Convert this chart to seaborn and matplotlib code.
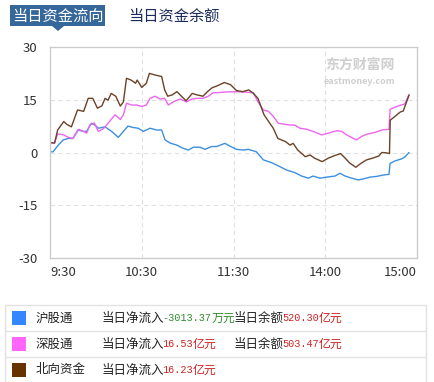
import numpy as np
import pandas as pd
import matplotlib
matplotlib.use('Agg')
import matplotlib.pyplot as plt
from matplotlib.patches import Rectangle, Polygon
from matplotlib.lines import Line2D
import seaborn as sns

# minutes since 9:30 (trading minutes, 240 = 15:00), values in 亿元
sh_t = [0, 2, 5.4, 8.7, 12, 15, 18.5, 22, 24, 27, 29.4, 31.6, 36, 40.3, 44.7, 48, 51, 54.5, 57.7, 61,
        65.4, 69.8, 73, 75.2, 78.5, 82.9, 87, 90.5, 93.7, 98, 101.4, 105.7, 109, 114.4, 117.7, 122,
        126.4, 129.7, 135, 139.5, 145, 149.3, 154.8, 160, 164.6, 169, 172, 176.6, 181, 186.4, 189.6,
        193, 197.3, 201.6, 204.9, 209.3, 213.6, 218, 221.7, 222.4, 225.6, 230, 232, 234.8]
sh_v = [0.2, 0.2, 2.1, 3.6, 4.0, 4.0, 6.4, 6.0, 6.0, 8.3, 7.8, 6.9, 7.3, 6.0, 4.3, 6.0, 7.5, 7.1, 6.9, 6.0,
        6.9, 6.4, 6.4, 3.6, 2.7, 2.1, 1.2, 0.7, 1.5, 1.5, 0.9, 1.7, 1.7, 2.6, 1.8, 0.9,
        0.7, 0.9, 0.2, -2.1, -2.9, -3.8, -5.0, -5.7, -6.7, -7.3, -6.7, -7.3, -7.0, -6.7, -5.9,
        -6.7, -7.3, -7.8, -7.5, -7.0, -6.8, -6.4, -6.2, -3.1, -2.4, -1.8, -1.3, 0.0]

sz_t = [0, 3, 5, 9, 12, 15, 18.5, 22, 24, 26, 29, 31.6, 35, 37, 40, 42.5, 46, 48, 50, 53.4, 56.7, 60,
        63, 65.4, 68.7, 72, 75, 77.4, 80.6, 85, 89.4, 92.7, 96, 100, 103.5, 106.8, 109, 114.4, 122,
        126.4, 133, 136, 139.5, 142.8, 146, 149.3, 152.6, 157, 160, 163.5, 168, 172, 177.7, 182, 187.5,
        190.7, 194, 198.4, 200.6, 203.8, 208, 212.5, 217, 221.7, 222.4, 226.7, 232, 234.8]
sz_v = [2.8, 2.7, 5.3, 5.0, 4.3, 4.0, 6.6, 6.0, 5.5, 7.8, 8.4, 6.0, 6.8, 7.8, 9.4, 10.7, 9.4, 10.7, 14.0, 13.5, 13.5, 13.1,
        13.5, 15.4, 16.0, 15.2, 15.4, 13.5, 14.4, 15.2, 14.4, 15.2, 15.4, 15.4, 16.0, 17.0, 17.0, 17.2, 17.3,
        17.2, 17.0, 14.4, 12.1, 11.7, 10.3, 8.3, 8.1, 7.8, 7.8, 6.9, 6.6, 6.0, 5.0, 5.5, 6.2,
        6.0, 5.0, 4.0, 3.6, 4.6, 5.3, 5.7, 6.4, 6.6, 12.3, 13.1, 13.8, 16.5]

nb_t = [0, 3, 5, 9, 11, 14, 18, 22, 25, 28, 31, 34, 36, 38, 40, 43, 46, 48, 50, 53, 56, 57, 60, 63, 65, 69,
        73, 75, 77, 80, 83, 86, 89, 93, 96, 100, 103, 106, 109, 114, 118, 122, 126, 130, 133, 136, 140,
        143, 146, 149, 154, 157, 159, 162, 167, 170, 173, 178, 182, 186, 190, 193, 196, 200, 203, 207,
        211, 215, 217, 220, 222, 222.5, 226, 229, 231, 234.8]
nb_v = [2.8, 2.7, 6.4, 8.8, 8.0, 7.3, 12.1, 11.7, 15.4, 15.4, 12.6, 13.3, 15.4, 14.9, 16.8, 16.0, 13.2, 14.4, 21.1, 20.6, 19.7, 20.6, 18.5, 19.7, 22.5, 22.0,
        21.6, 17.8, 16.0, 16.4, 17.3, 16.0, 14.7, 16.8, 16.4, 16.0, 17.3, 18.4, 18.9, 19.9, 19.3, 17.6, 17.3, 17.8, 16.8, 15.4, 10.7,
        8.8, 6.9, 4.0, 3.1, 2.1, 2.6, 0.7, -1.2, -0.7, -1.6, -2.6, -1.6, -0.9, -0.3, -1.6, -3.0, -4.2, -3.2, -2.1,
        -1.6, -1.0, 0.0, -0.1, -0.3, 9.2, 10.4, 11.5, 11.8, 16.3]

series_names = ['沪股通', '深股通', '北向资金']
line_colors = ['#3d8fe0', '#ee66ee', '#6b4226']
box_colors = ['#3388ff', '#ff66ff', '#663300']
tick_pos = [0, 60, 120, 180, 240]
tick_labels = ['9:30', '10:30', '11:30', '14:00', '15:00']
y_ticks = [-30, -15, 0, 15, 30]

net_in = ['-3013.37', '16.53', '16.23']
net_unit = ['万元', '亿元', '亿元']
balance = ['520.30', '503.47', None]

df = pd.concat([
    pd.DataFrame({'t': sh_t, 'v': sh_v, 's': series_names[0]}),
    pd.DataFrame({'t': sz_t, 'v': sz_v, 's': series_names[1]}),
    pd.DataFrame({'t': nb_t, 'v': nb_v, 's': series_names[2]}),
])

sns.set_style('white')
plt.rcParams['font.family'] = ['Noto Sans CJK SC', 'DejaVu Sans']

W, H = 434, 382
fig = plt.figure(figsize=(W / 100, H / 100), dpi=100)


def fx(x):
    return x / W


def fy(y):
    return 1 - y / H


ax = fig.add_axes([fx(50), fy(258), fx(417) - fx(50), fy(47) - fy(258)])
sns.lineplot(data=df, x='t', y='v', hue='s', palette=dict(zip(series_names, line_colors)),
             linewidth=1.0, legend=False, ax=ax, sort=False, estimator=None)

ax.set_xlim(0, 240)
ax.set_ylim(-30, 30)
ax.set_xlabel('')
ax.set_ylabel('')
ax.set_yticks(y_ticks)
ax.set_yticklabels([str(v) for v in y_ticks])
ax.set_xticks(tick_pos)
ax.set_xticklabels(tick_labels)
ax.tick_params(length=0, labelsize=9.5, colors='#333333')
ax.tick_params(axis='y', pad=9)
ax.tick_params(axis='x', pad=6)
xt = ax.get_xticklabels()
xt[0].set_ha('left')
xt[-1].set_ha('right')
for s in ax.spines.values():
    s.set_color('#cccccc')
    s.set_linewidth(1)
for y in [-15, 0, 15]:
    ax.axhline(y, color='#e0e0e0', lw=0.8, ls=(0, (4, 3)), zorder=0)
for x in [60, 120, 180]:
    ax.axvline(x, color='#e0e0e0', lw=0.8, ls=(0, (4, 3)), zorder=0)

# watermark
ax.text(0.94, 0.95, '东方财富网', transform=ax.transAxes, ha='right', va='top',
        fontsize=10, color='#cfcfcf', fontweight='bold')
ax.text(0.94, 0.86, 'eastmoney.com', transform=ax.transAxes, ha='right', va='top',
        fontsize=6.5, color='#cfcfcf', fontweight='bold')

# tabs
fig.add_artist(Rectangle((fx(10), fy(26)), fx(105) - fx(10), fy(5) - fy(26),
                         transform=fig.transFigure, color='#35679a', lw=0))
fig.add_artist(Polygon([(fx(52), fy(26)), (fx(64), fy(26)), (fx(58), fy(31))],
                       transform=fig.transFigure, color='#35679a', lw=0))
fig.text(fx(57.5), fy(16), '当日资金流向', color='white', fontsize=11, ha='center', va='center')
fig.text(fx(128), fy(16), '当日资金余额', color='#1a2b5c', fontsize=11, ha='left', va='center')

# bottom table
line_kw = dict(transform=fig.transFigure, color='#e2e2e2', lw=1)
for y in [305, 331, 357]:
    fig.add_artist(Line2D([fx(5), fx(426)], [fy(y), fy(y)], **line_kw))
fig.add_artist(Line2D([fx(5), fx(5)], [fy(305), fy(382)], **line_kw))
fig.add_artist(Line2D([fx(426), fx(426)], [fy(305), fy(382)], **line_kw))

num_font = 'Liberation Mono'
num_size = 7.3
adv = 0.6 * num_size * 100 / 72
for i, name in enumerate(series_names):
    yc = 318 + 26 * i
    fig.add_artist(Rectangle((fx(12), fy(yc + 7)), fx(14), fy(yc - 7) - fy(yc + 7),
                             transform=fig.transFigure, color=box_colors[i], lw=0))
    fig.text(fx(36), fy(yc), name, fontsize=9, ha='left', va='center', color='#222222')
    fig.text(fx(102), fy(yc), '当日净流入', fontsize=9, ha='left', va='center', color='#222222')
    col = '#2e8b2e' if net_in[i].startswith('-') else '#cc2222'
    nx = 162
    fig.text(fx(nx), fy(yc), net_in[i], fontsize=num_size, ha='left', va='center', color=col,
             family=num_font)
    fig.text(fx(nx + adv * len(net_in[i]) + 0.5), fy(yc), net_unit[i], fontsize=8.6, ha='left',
             va='center', color=col)
    if balance[i] is not None:
        fig.text(fx(234), fy(yc), '当日余额', fontsize=9, ha='left', va='center', color='#222222')
        fig.text(fx(282), fy(yc), balance[i], fontsize=num_size, ha='left', va='center',
                 color='#cc2222', family=num_font)
        fig.text(fx(282 + adv * len(balance[i]) + 0.5), fy(yc), '亿元', fontsize=8.6, ha='left',
                 va='center', color='#cc2222')

fig.savefig('out.png', dpi=100)
